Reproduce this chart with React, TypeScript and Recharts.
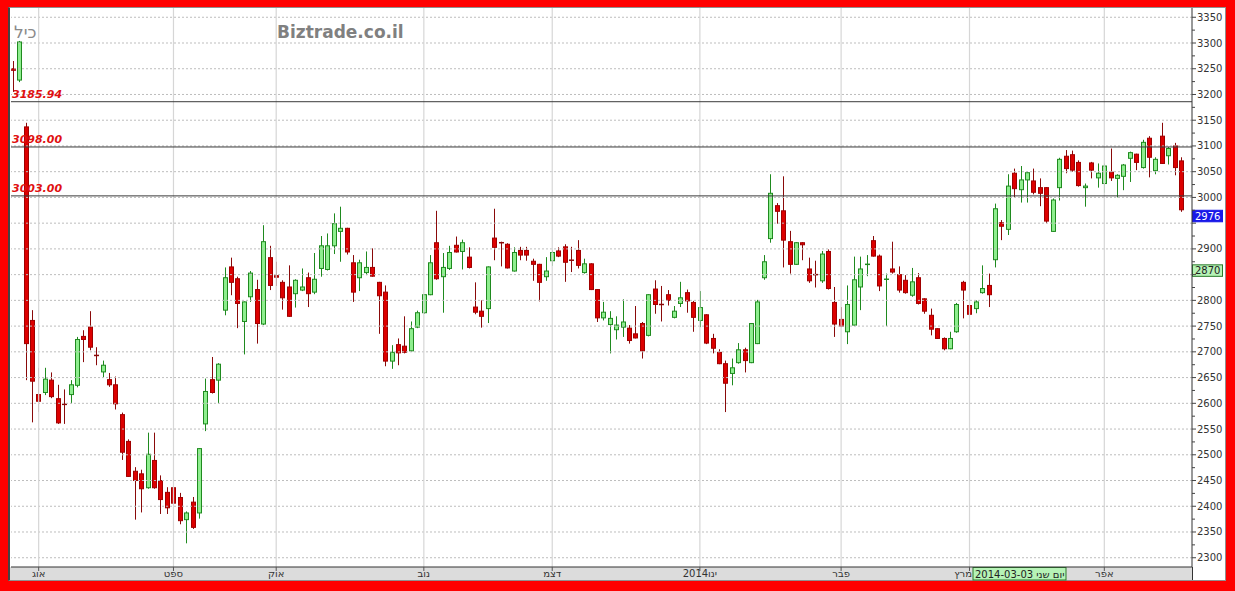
import React from 'react'
import { ComposedChart, Bar, XAxis, YAxis, ReferenceLine } from 'recharts'

// daily candles, ICL (כיל), 28 Jul 2013 .. Apr 2014
const opens = [
  3250, 3228, 3137, 2761, 2617, 2621, 2645, 2609, 2598, 2617,
  2635, 2730, 2748, 2693, 2661, 2646, 2636, 2578, 2526, 2468,
  2463, 2436, 2489, 2450, 2427, 2436, 2417, 2374, 2408, 2387,
  2560, 2646, 2645, 2781, 2865, 2842, 2759, 2807, 2821, 2754,
  2883, 2848, 2835, 2826, 2813, 2820, 2844, 2816, 2862, 2860,
  2906, 2934, 2940, 2873, 2844, 2854, 2864, 2835, 2816, 2682,
  2714, 2711, 2702, 2748, 2776, 2811, 2912, 2846, 2862, 2907,
  2895, 2884, 2787, 2779, 2784, 2921, 2912, 2909, 2857, 2897,
  2897, 2876, 2870, 2846, 2877, 2896, 2904, 2878, 2897, 2854,
  2871, 2821, 2766, 2753, 2743, 2748, 2746, 2735, 2755, 2732,
  2822, 2792, 2811, 2767, 2794, 2815, 2796, 2761, 2772, 2726,
  2699, 2677, 2658, 2679, 2704, 2679, 2716, 2844, 2920, 2984,
  2974, 2914, 2870, 2912, 2861, 2850, 2838, 2895, 2796, 2763,
  2739, 2752, 2826, 2870, 2916, 2886, 2841, 2861, 2850, 2839,
  2810, 2844, 2803, 2771, 2745, 2726, 2706, 2739, 2835, 2790,
  2784, 2815, 2829, 2879, 2951, 2938, 3047, 3015, 3034, 3032,
  3019, 3019, 2934, 3019, 3080, 3083, 3068, 3019, 3067, 3038,
  3027, 3049, 3037, 3041, 3076, 3084, 3058, 3115, 3052, 3119,
  3081, 3100, 3071,
]
const highs = [
  3265, 3304, 3145, 2781, 2669, 2669, 2660, 2636, 2627, 2645,
  2729, 2742, 2779, 2709, 2683, 2659, 2652, 2582, 2530, 2476,
  2471, 2543, 2543, 2460, 2437, 2448, 2426, 2390, 2418, 2513,
  2648, 2690, 2678, 2864, 2883, 2846, 2798, 2857, 2840, 2946,
  2906, 2875, 2839, 2868, 2841, 2862, 2854, 2892, 2925, 2930,
  2969, 2982, 2941, 2888, 2879, 2895, 2901, 2836, 2829, 2713,
  2726, 2769, 2759, 2780, 2812, 2888, 2974, 2892, 2906, 2924,
  2918, 2903, 2835, 2800, 2866, 2978, 2914, 2911, 2903, 2904,
  2904, 2881, 2871, 2884, 2897, 2903, 2909, 2904, 2917, 2881,
  2872, 2822, 2797, 2779, 2769, 2802, 2752, 2789, 2758, 2812,
  2839, 2828, 2820, 2789, 2836, 2821, 2799, 2818, 2773, 2735,
  2705, 2683, 2687, 2717, 2708, 2756, 2801, 2888, 3045, 2989,
  3041, 2935, 2913, 2913, 2883, 2877, 2896, 2899, 2826, 2787,
  2829, 2885, 2885, 2888, 2925, 2889, 2852, 2914, 2866, 2849,
  2863, 2853, 2804, 2784, 2746, 2728, 2739, 2795, 2838, 2799,
  2800, 2868, 2852, 2988, 2956, 3045, 3056, 3061, 3050, 3056,
  3037, 3020, 2998, 3077, 3092, 3091, 3072, 3027, 3069, 3066,
  3066, 3095, 3045, 3065, 3089, 3085, 3112, 3119, 3078, 3145,
  3098, 3106, 3078,
]
const lows = [
  3205, 3224, 2645, 2563, 2583, 2616, 2610, 2560, 2560, 2600,
  2631, 2680, 2703, 2674, 2651, 2632, 2588, 2490, 2457, 2374,
  2388, 2434, 2434, 2385, 2385, 2383, 2365, 2328, 2356, 2376,
  2546, 2619, 2600, 2771, 2810, 2746, 2695, 2797, 2716, 2752,
  2820, 2828, 2782, 2768, 2786, 2818, 2787, 2812, 2846, 2858,
  2890, 2875, 2889, 2797, 2818, 2849, 2846, 2735, 2672, 2667,
  2674, 2697, 2700, 2746, 2774, 2810, 2840, 2776, 2859, 2893,
  2860, 2862, 2773, 2747, 2756, 2878, 2866, 2862, 2856, 2878,
  2877, 2838, 2798, 2838, 2867, 2884, 2836, 2855, 2862, 2852,
  2820, 2758, 2761, 2697, 2724, 2729, 2716, 2726, 2687, 2730,
  2774, 2759, 2790, 2765, 2787, 2776, 2739, 2748, 2715, 2697,
  2676, 2583, 2635, 2677, 2660, 2678, 2715, 2840, 2912, 2949,
  2864, 2852, 2869, 2878, 2834, 2825, 2834, 2821, 2729, 2748,
  2715, 2750, 2781, 2847, 2885, 2818, 2750, 2852, 2815, 2813,
  2807, 2792, 2774, 2732, 2725, 2703, 2705, 2737, 2765, 2768,
  2775, 2813, 2787, 2864, 2917, 2927, 3000, 2990, 2990, 3006,
  2983, 2950, 2933, 2994, 3047, 3050, 3021, 2982, 3037, 3019,
  3009, 3032, 3000, 3014, 3030, 3053, 3056, 3039, 3045, 3065,
  3064, 3043, 2972,
]
const closes = [
  3247, 3302, 2716, 2643, 2604, 2647, 2613, 2562, 2597, 2636,
  2724, 2724, 2709, 2691, 2674, 2636, 2599, 2505, 2458, 2450,
  2434, 2501, 2436, 2413, 2397, 2406, 2372, 2387, 2359, 2512,
  2623, 2621, 2676, 2844, 2835, 2794, 2797, 2853, 2755, 2914,
  2829, 2845, 2805, 2769, 2839, 2826, 2813, 2841, 2906, 2906,
  2949, 2940, 2894, 2816, 2873, 2864, 2847, 2809, 2682, 2699,
  2698, 2699, 2745, 2776, 2811, 2873, 2842, 2864, 2893, 2894,
  2912, 2864, 2777, 2769, 2865, 2903, 2910, 2863, 2893, 2888,
  2888, 2870, 2835, 2857, 2893, 2886, 2874, 2877, 2868, 2871,
  2821, 2766, 2777, 2765, 2752, 2758, 2722, 2727, 2702, 2811,
  2792, 2791, 2800, 2779, 2805, 2799, 2767, 2786, 2717, 2707,
  2677, 2639, 2669, 2704, 2683, 2755, 2797, 2875, 3008, 2973,
  2917, 2870, 2912, 2908, 2838, 2849, 2890, 2823, 2754, 2750,
  2792, 2840, 2861, 2870, 2886, 2828, 2841, 2855, 2820, 2815,
  2836, 2794, 2779, 2744, 2726, 2706, 2726, 2792, 2820, 2773,
  2797, 2823, 2811, 2978, 2944, 3022, 3017, 3034, 3048, 3010,
  3008, 2954, 2995, 3074, 3056, 3053, 3023, 3022, 3053, 3047,
  3061, 3038, 3043, 3063, 3087, 3068, 3107, 3078, 3074, 3066,
  3095, 3058, 2976,
]

// candle index of the first trading day of each month
const monthStarts = [4, 25, 41, 64, 84, 107, 129, 149, 170]
const monthLabels = ['אוג', 'ספט', 'אוק', 'נוב', 'דצמ', 'ינו2014', 'פבר', 'מרץ', 'אפר']

const priceLabels = [
  2300, 2350, 2400, 2450, 2500, 2550, 2600, 2650, 2700, 2750, 2800,
  2850, 2900, 2950, 3000, 3050, 3100, 3150, 3200, 3250, 3300, 3350,
]
const minorTicks = priceLabels.flatMap((p) => [p, p + 25]).filter((p) => p <= 3350)

const levels = [3185.94, 3098.0, 3003.0]
const lastPrice = 2976
const cursorPrice = 2870
const cursorIndex = 149
const cursorText = 'יום שני 2014-03-03'

const data = opens.map((o, i) => ({
  i,
  o,
  h: highs[i],
  l: lows[i],
  c: closes[i],
  range: [lows[i], highs[i]],
}))

const GREEN_FILL = '#8eee8e'
const GREEN_LINE = '#1f8a1f'
const RED_FILL = '#dc0000'
const RED_LINE = '#8a0a0a'

const Candle = (props: any) => {
  const { x, y, width, height, payload } = props
  if (!payload) return null
  const { o, h, l, c } = payload
  const up = c >= o
  const cx = Math.floor(x + width / 2) + 0.5
  const top = Math.min(y, y + height)
  const span = Math.abs(height)
  const k = h === l ? 0 : span / (h - l)
  const yOf = (v: number) => top + (h - v) * k
  const bTop = yOf(Math.max(o, c))
  const bBot = yOf(Math.min(o, c))
  const line = up ? GREEN_LINE : RED_LINE
  return (
    <g>
      <line x1={cx} x2={cx} y1={top} y2={top + span} stroke={line} strokeWidth={1} />
      {bBot - bTop < 1.5 ? (
        <line x1={cx - 2.5} x2={cx + 2.5} y1={bTop} y2={bTop} stroke={line} strokeWidth={1.5} />
      ) : (
        <rect
          x={cx - 2}
          y={bTop}
          width={4}
          height={bBot - bTop}
          fill={up ? GREEN_FILL : RED_FILL}
          stroke={up ? GREEN_LINE : '#a00000'}
          strokeWidth={1}
        />
      )}
    </g>
  )
}

const MonthTick = ({ x, y, payload }: any) => {
  const idx = monthStarts.indexOf(payload.value)
  // the cursor date box sits right of the march tick, so that label hangs left
  const nextToCursor = payload.value === cursorIndex
  return (
    <g>
      <line x1={x} x2={x} y1={y} y2={y + 4} stroke="#555" />
      <text
        x={nextToCursor ? x + 2.5 : x}
        y={y + 10}
        textAnchor={nextToCursor ? 'end' : 'middle'}
        fontSize={10}
        fill="#333"
        fontFamily="DejaVu Sans"
      >
        {monthLabels[idx]}
      </text>
    </g>
  )
}

// price boxes on the right cover the tick label underneath them
const hiddenLabel = (v: number) =>
  (v > lastPrice - 40 && v < lastPrice) || (v > cursorPrice - 40 && v < cursorPrice)

const PriceTick = ({ x, y, payload }: any) => {
  const v = payload.value
  const major = v % 50 === 0
  return (
    <g>
      <line x1={x} x2={x + (major ? 4 : 3)} y1={y} y2={y} stroke="#444" />
      {major && !hiddenLabel(v) && (
        <text x={x + 5} y={y + 3.5} fontSize={10} fill="#333" fontFamily="DejaVu Sans">
          {v}
        </text>
      )}
    </g>
  )
}

const LevelLabel = ({ viewBox, value }: any) => (
  <text
    x={viewBox.x + 1}
    y={viewBox.y - 4}
    fontSize={11}
    fontWeight="bold"
    fontStyle="italic"
    fill="#e01010"
    fontFamily="DejaVu Sans"
  >
    {value.toFixed(2)}
  </text>
)

const PriceBox = ({ viewBox, value, fill, stroke, color }: any) => {
  const bx = viewBox.x + viewBox.width
  return (
    <g>
      <rect x={bx + 0.5} y={viewBox.y + 0.5} width={30} height={11.5} fill={fill} stroke={stroke} />
      <text x={bx + 3} y={viewBox.y + 10} fontSize={10} fill={color} fontFamily="DejaVu Sans">
        {value}
      </text>
    </g>
  )
}

const DateBox = ({ viewBox }: any) => {
  const bx = viewBox.x + 3.5
  const by = viewBox.y + viewBox.height + 0.5
  return (
    <g>
      <rect x={bx} y={by} width={93} height={12.5} fill="#b6f3b6" stroke="#2a7a2a" />
      <text x={bx + 2} y={by + 10} fontSize={10} fill="#222" fontFamily="DejaVu Sans">
        {cursorText}
      </text>
    </g>
  )
}

export default function App() {
  return (
    <div style={{ position: 'absolute', left: 0, top: 0, width: 1235, height: 591, background: '#ff0000' }}>
      <div
        style={{
          position: 'absolute',
          left: 8,
          top: 7,
          width: 1218,
          height: 574,
          background: '#fff',
          boxSizing: 'border-box',
          border: '1px solid #909090',
          borderLeft: '2px solid #444',
        }}
      />
      <div
        style={{ position: 'absolute', left: 10, top: 567, width: 1182, height: 13, background: '#dcdcdc' }}
      />
      <div style={{ position: 'absolute', left: 1192, top: 567, width: 1, height: 13, background: '#333' }} />
      <div style={{ position: 'absolute', left: 0, top: 0 }}>
        <ComposedChart width={1235} height={591} data={data} margin={{ top: 8, right: 11, bottom: 11, left: 11 }}>
          <XAxis
            dataKey="i"
            type="number"
            domain={[-0.31, 183.66]}
            ticks={monthStarts}
            interval={0}
            tickSize={0}
            tickMargin={0}
            tick={<MonthTick />}
            axisLine={{ stroke: '#333' }}
            height={13}
            allowDataOverflow
          />
          <YAxis
            orientation="right"
            type="number"
            domain={[2282, 3368]}
            ticks={minorTicks}
            interval={0}
            tickSize={0}
            tickMargin={0}
            tick={<PriceTick />}
            axisLine={{ stroke: '#333' }}
            width={32}
            allowDataOverflow
          />
          {priceLabels.map((p) => (
            <ReferenceLine key={'h' + p} y={p} stroke="#bdbdbd" strokeDasharray="2 2" />
          ))}
          {monthStarts.map((m) => (
            <ReferenceLine key={'v' + m} x={m} stroke="#d6d6d6" strokeWidth={1.2} />
          ))}
          {levels.map((v) => (
            <ReferenceLine key={'l' + v} y={v} stroke="#3a3a3a" label={<LevelLabel value={v} />} />
          ))}
          <Bar dataKey="range" barSize={5} shape={<Candle />} isAnimationActive={false} />
          <ReferenceLine
            y={lastPrice}
            stroke="none"
            label={<PriceBox value={lastPrice} fill="#1818e8" stroke="#1818e8" color="#fff" />}
          />
          <ReferenceLine
            y={cursorPrice}
            stroke="none"
            label={<PriceBox value={cursorPrice} fill="#b6f3b6" stroke="#2a7a2a" color="#222" />}
          />
          <ReferenceLine x={cursorIndex} stroke="none" label={<DateBox />} />
        </ComposedChart>
      </div>
      <svg width={1235} height={591} style={{ position: 'absolute', left: 0, top: 0, pointerEvents: 'none' }}>
        <text x={14} y={38} fontSize={17} fill="#8a8a8a" fontFamily="DejaVu Sans">
          כיל
        </text>
        <text x={277} y={38} fontSize={17} fontWeight="bold" fill="#808080" fontFamily="DejaVu Sans">
          Biztrade.co.il
        </text>
      </svg>
    </div>
  )
}
